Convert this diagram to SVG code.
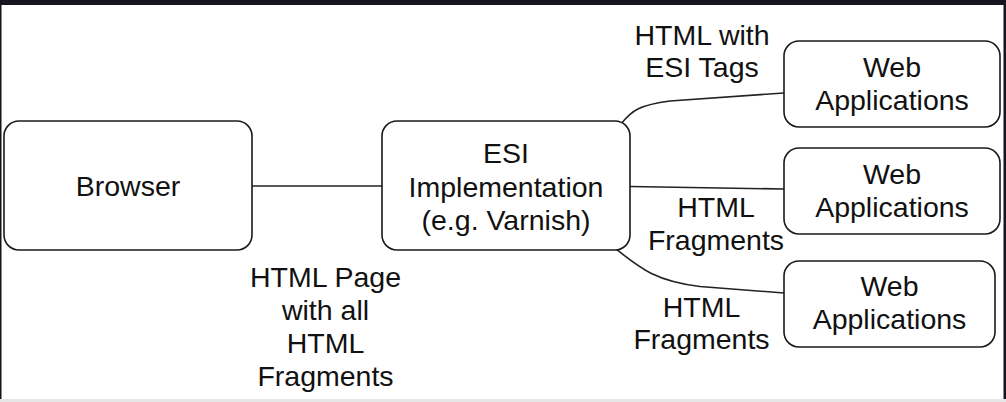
<svg xmlns="http://www.w3.org/2000/svg" width="1006" height="402" viewBox="0 0 1006 402">
<style>
.box{fill:#fff;stroke:#1a1a1a;stroke-width:1.6}
.t{font-family:"Liberation Sans",Arial,Helvetica,sans-serif;font-size:28.5px;fill:#111;text-anchor:middle}
.c{fill:none;stroke:#222;stroke-width:1.6}
</style>
<rect x="0" y="0" width="1006" height="402" fill="#fff"/>
<rect x="0" y="0" width="1006" height="5" fill="#15151d"/>
<rect x="0" y="0" width="1.5" height="402" fill="#15151d"/>
<rect x="1003.5" y="0" width="2.5" height="402" fill="#15151d"/>
<rect x="0" y="399" width="1006" height="3" fill="#e6e6e6"/>
<g id="connectors">
<path class="c" d="M252,186 L382,186"/>
<path class="c" d="M621,124 C632,110 640,105 670,101 L784,93"/>
<path class="c" d="M630,186.5 L784,189"/>
<path class="c" d="M616,249 C640,268 655,281 700,286.5 L784,293"/>
</g>
<g id="browser">
<rect class="box" x="4" y="121" width="248" height="129" rx="15"/>
<text class="t" x="128" y="196">Browser</text>
</g>
<g id="esi">
<rect class="box" x="382" y="121" width="248" height="129" rx="15"/>
<text class="t" x="506" y="163">ESI</text>
<text class="t" x="506" y="197">Implementation</text>
<text class="t" x="506" y="230">(e.g. Varnish)</text>
</g>
<g id="web1">
<rect class="box" x="784" y="41" width="216" height="86" rx="15"/>
<text class="t" x="892" y="77">Web</text>
<text class="t" x="892" y="110">Applications</text>
</g>
<g id="web2">
<rect class="box" x="784" y="148" width="216" height="86" rx="15"/>
<text class="t" x="892" y="184">Web</text>
<text class="t" x="892" y="217">Applications</text>
</g>
<g id="web3">
<rect class="box" x="784" y="261" width="211" height="86" rx="15"/>
<text class="t" x="889.5" y="296">Web</text>
<text class="t" x="889.5" y="329">Applications</text>
</g>
<g id="labels">
<text class="t" x="702" y="45">HTML with</text>
<text class="t" x="702" y="77">ESI Tags</text>
<text class="t" x="716" y="217">HTML</text>
<text class="t" x="716" y="250">Fragments</text>
<text class="t" x="701.5" y="317">HTML</text>
<text class="t" x="701.5" y="349">Fragments</text>
<text class="t" x="325.5" y="287">HTML Page</text>
<text class="t" x="325.5" y="320">with all</text>
<text class="t" x="325.5" y="353">HTML</text>
<text class="t" x="325.5" y="386">Fragments</text>
</g>
</svg>
